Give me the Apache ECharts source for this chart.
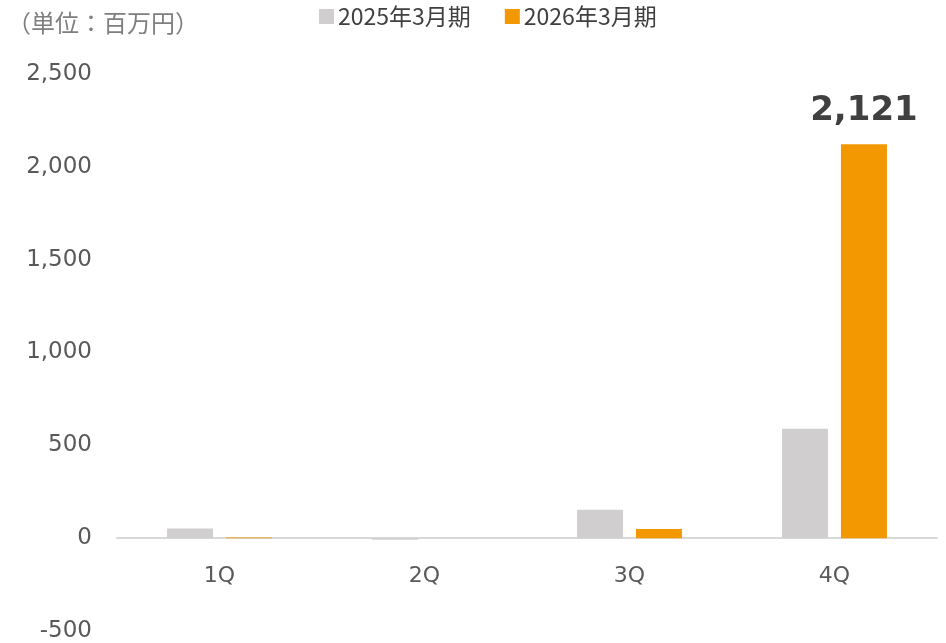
<!DOCTYPE html>
<html>
<head>
<meta charset="utf-8">
<script src="https://cdn.jsdelivr.net/npm/echarts@6/dist/echarts.min.js"></script>
<style>
html,body{margin:0;padding:0;background:#fff;}
#chart{width:946px;height:643px;}
</style>
</head>
<body>
<div id="chart"></div>
<script>
const categories = ['1Q', '2Q', '3Q', '4Q'];
const seriesNames = ['2025年3月期', '2026年3月期'];
const values2025 = [52, -8, 153, 589];
const values2026 = [4, 0, 50, 2121];
const yTicks = { min: -500, max: 2500, interval: 500 };
const labeledIndex = 3;

const chart = echarts.init(document.getElementById('chart'));
chart.setOption({
  animation: false,
  title: {
    text: '（単位：百万円）',
    left: 2,
    top: 6,
    textStyle: { fontFamily: 'Noto Sans CJK JP', fontSize: 24, fontWeight: 'normal', color: '#7f7f7f' }
  },
  legend: {
    data: seriesNames,
    left: 314,
    top: 0,
    padding: [5, 5, 5, 5],
    itemWidth: 15,
    itemHeight: 15,
    itemGap: 34,
    icon: 'rect',
    textStyle: { fontFamily: 'Noto Sans CJK JP', fontSize: 23, color: '#404040', padding: [0, 0, 0, -1] }
  },
  grid: { left: 117, right: 9, top: 74, bottom: 12, containLabel: false, outerBoundsMode: 'none' },
  xAxis: {
    type: 'category',
    data: categories,
    axisLine: { onZero: true, lineStyle: { color: '#d9d9d9', width: 2 } },
    axisTick: { show: false },
    axisLabel: { fontFamily: 'DejaVu Sans', fontSize: 22, color: '#595959', margin: -66 }
  },
  yAxis: {
    type: 'value',
    min: yTicks.min,
    max: yTicks.max,
    interval: yTicks.interval,
    splitLine: { show: false },
    axisLine: { show: false },
    axisTick: { show: false },
    axisLabel: {
      fontFamily: 'DejaVu Sans', fontSize: 23, color: '#595959', margin: 25,
      formatter: v => v.toLocaleString('en-US')
    }
  },
  series: [
    {
      name: seriesNames[0],
      type: 'bar',
      data: values2025,
      barWidth: 46,
      barGap: '28%',
      itemStyle: { color: '#d0cece' }
    },
    {
      name: seriesNames[1],
      type: 'bar',
      data: values2026.map((v, i) => i === labeledIndex ? {
        value: v,
        label: {
          show: true, position: 'top', distance: 16,
          fontFamily: 'DejaVu Sans', fontWeight: 'bold', fontSize: 34, color: '#404040',
          formatter: p => p.value.toLocaleString('en-US')
        }
      } : v),
      barWidth: 46,
      itemStyle: { color: '#f39800' }
    }
  ]
});
</script>
</body>
</html>
